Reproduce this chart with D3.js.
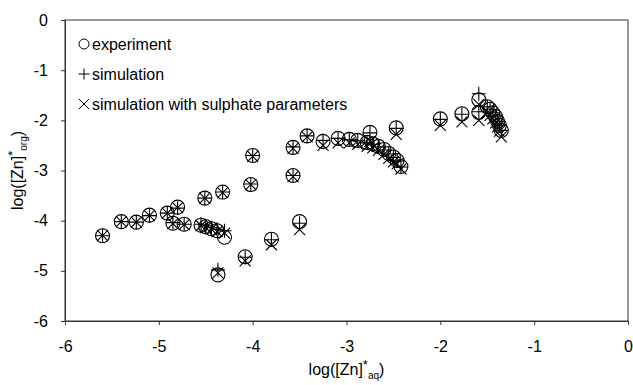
<!DOCTYPE html>
<html>
<head>
<meta charset="utf-8">
<script src="https://cdn.jsdelivr.net/npm/d3@7"></script>
<style>
  body { margin: 0; background: #fff; }
  text { font-family: "Liberation Sans", Arial, sans-serif; fill: #000; }
</style>
</head>
<body>
<svg id="chart"></svg>
<script>
//// DATA

// x = log([Zn]*aq), shared by all three series
const xVals = [-5.6, -5.4, -5.24, -5.1, -4.91, -4.8, -4.85, -4.73, -4.51, -4.32,
  -4.0, -4.02, -3.57, -3.57, -3.42,
  -4.55, -4.5, -4.44, -4.38, -4.3,
  -3.5, -3.8, -4.08, -4.37,
  -3.25, -3.09, -2.97, -2.88, -2.78, -2.75, -2.72, -2.66, -2.6, -2.55, -2.5, -2.46, -2.42, -2.47,
  -2.0, -1.77, -1.59, -1.59, -1.5, -1.47, -1.44, -1.41, -1.39, -1.37, -1.35];

// log([Zn]*org), experiment
const yExperiment = [-4.3, -4.02, -4.03, -3.89, -3.85, -3.73, -4.05, -4.07, -3.55, -3.43,
  -2.7, -3.28, -2.54, -3.1, -2.31,
  -4.09, -4.12, -4.16, -4.2, -4.33,
  -4.02, -4.37, -4.72, -5.08,
  -2.42, -2.36, -2.38, -2.4, -2.44, -2.24, -2.47, -2.52, -2.58, -2.66, -2.73, -2.8, -2.92, -2.15,
  -1.97, -1.87, -1.59, -1.84, -1.73, -1.78, -1.85, -1.93, -2.02, -2.1, -2.2];

// simulation
const ySimulation = [-4.3, -4.02, -4.03, -3.9, -3.85, -3.75, -4.04, -4.07, -3.55, -3.43,
  -2.7, -3.27, -2.53, -3.1, -2.31,
  -4.07, -4.1, -4.14, -4.17, -4.2,
  -4.05, -4.38, -4.73, -4.98,
  -2.4, -2.36, -2.39, -2.41, -2.45, -2.25, -2.48, -2.53, -2.59, -2.67, -2.74, -2.81, -2.93, -2.16,
  -1.98, -1.88, -1.47, -1.83, -1.73, -1.78, -1.85, -1.93, -2.02, -2.1, -2.2];

// simulation with sulphate parameters
const ySulphate = [-4.3, -4.02, -4.03, -3.9, -3.85, -3.74, -4.06, -4.08, -3.55, -3.44,
  -2.72, -3.28, -2.56, -3.12, -2.33,
  -4.1, -4.14, -4.17, -4.22, -4.25,
  -4.18, -4.48, -4.8, -5.04,
  -2.5, -2.45, -2.45, -2.48, -2.52, -2.42, -2.55, -2.6, -2.68, -2.76, -2.83, -2.87, -2.97, -2.28,
  -2.1, -2.03, -1.68, -2.0, -1.85, -1.9, -1.97, -2.05, -2.13, -2.22, -2.33];

const xTicks = [-6, -5, -4, -3, -2, -1, 0];
const yTicks = [0, -1, -2, -3, -4, -5, -6];
const legendLabels = ["experiment", "simulation", "simulation with sulphate parameters"];

//// SETUP

const width = 633;
const height = 385;
const margin = { top: 20, right: 5, bottom: 64, left: 65 };

const svg = d3.select("#chart").attr("width", width).attr("height", height);

const x = d3.scaleLinear().domain([-6, 0]).range([margin.left, width - margin.right]);
const y = d3.scaleLinear().domain([-6, 0]).range([height - margin.bottom, margin.top]);

// frame
svg.append("rect")
    .attr("x", x(-6))
    .attr("y", y(0))
    .attr("width", x(0) - x(-6))
    .attr("height", y(-6) - y(0))
    .attr("fill", "none")
    .attr("stroke", "#333")
    .attr("stroke-width", 1);

// axes
const xAxis = svg.append("g")
    .attr("transform", `translate(0,${y(-6)})`)
    .call(d3.axisBottom(x).tickValues(xTicks).tickSize(4).tickPadding(16).tickFormat(d3.format("d")));
const yAxis = svg.append("g")
    .attr("transform", `translate(${x(-6)},0)`)
    .call(d3.axisLeft(y).tickValues(yTicks).tickSize(4).tickPadding(13).tickFormat(d3.format("d")));

[xAxis, yAxis].forEach(function (g) {
    g.select(".domain").attr("stroke", "#333");
    g.selectAll(".tick line").attr("stroke", "#333");
    g.selectAll(".tick text")
        .style("font-size", "16px")
        .style("font-family", "Liberation Sans, Arial, sans-serif")
        .text(d => d < 0 ? "-" + Math.abs(d) : d);
});

// axis titles
const xTitle = svg.append("text")
    .attr("x", (x(-6) + x(0)) / 2)
    .attr("y", 375)
    .attr("text-anchor", "middle")
    .style("font-size", "16px");
xTitle.append("tspan").text("log([Zn]");
xTitle.append("tspan").attr("dy", -6).style("font-size", "13px").text("*");
xTitle.append("tspan").attr("dy", 10).style("font-size", "10px").text("aq");
xTitle.append("tspan").attr("dy", -4).text(")");

const yTitle = svg.append("text")
    .attr("transform", `translate(23,${(y(0) + y(-6)) / 2}) rotate(-90)`)
    .attr("text-anchor", "middle")
    .style("font-size", "16px");
yTitle.append("tspan").text("log([Zn]");
yTitle.append("tspan").attr("dy", -6).style("font-size", "13px").text("*");
yTitle.append("tspan").attr("dy", 10).style("font-size", "10px").text("org");
yTitle.append("tspan").attr("dy", -4).text(")");

//// MARKERS

function drawCircles(g, xs, ys, r) {
    g.selectAll("circle")
        .data(d3.zip(xs, ys))
        .enter()
        .append("circle")
        .attr("cx", d => x(d[0]))
        .attr("cy", d => y(d[1]))
        .attr("r", r)
        .attr("fill", "none")
        .attr("stroke", "#000")
        .attr("stroke-width", 1.1);
}

function plusPath(cx, cy, s) {
    return `M${cx - s},${cy}H${cx + s}M${cx},${cy - s}V${cy + s}`;
}

function crossPath(cx, cy, s) {
    return `M${cx - s},${cy - s}L${cx + s},${cy + s}M${cx - s},${cy + s}L${cx + s},${cy - s}`;
}

function drawSymbols(g, xs, ys, fn, s) {
    g.selectAll("path")
        .data(d3.zip(xs, ys))
        .enter()
        .append("path")
        .attr("d", d => fn(x(d[0]), y(d[1]), s))
        .attr("fill", "none")
        .attr("stroke", "#000")
        .attr("stroke-width", 1.1);
}

drawCircles(svg.append("g"), xVals, yExperiment, 7);
drawSymbols(svg.append("g"), xVals, ySimulation, plusPath, 7);
drawSymbols(svg.append("g"), xVals, ySulphate, crossPath, 5.5);

//// LEGEND

const legend = svg.append("g");
const legendY = [44, 74, 104];
const legendX = 84;

legend.append("circle")
    .attr("cx", legendX).attr("cy", legendY[0]).attr("r", 5)
    .attr("fill", "none").attr("stroke", "#000");
legend.append("path").attr("d", plusPath(legendX, legendY[1], 5.5))
    .attr("stroke", "#000").attr("fill", "none");
legend.append("path").attr("d", crossPath(legendX, legendY[2], 5))
    .attr("stroke", "#000").attr("fill", "none");

legend.selectAll("text")
    .data(legendLabels)
    .enter()
    .append("text")
    .attr("x", legendX + 8)
    .attr("y", (d, i) => legendY[i])
    .attr("dy", "0.35em")
    .style("font-size", "16px")
    .text(d => d);
</script>
</body>
</html>
